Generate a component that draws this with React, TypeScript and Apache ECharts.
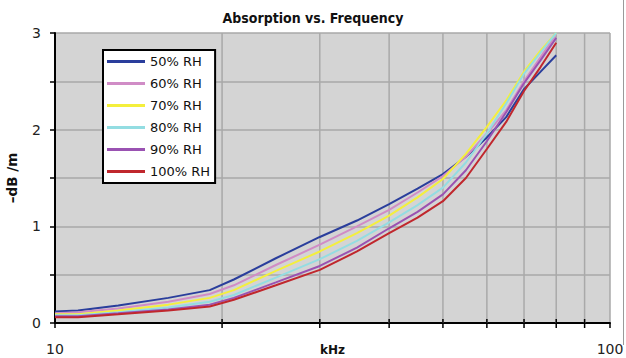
import React, { useEffect, useRef } from "react";
import * as echarts from "echarts";

const frequencies = [10, 11, 13, 16, 19, 21, 25, 30, 35, 40, 45, 50, 55, 60, 65, 70, 75, 80];
const seriesNames = ["50% RH", "60% RH", "70% RH", "80% RH", "90% RH", "100% RH"];
const rh50 = [0.12, 0.13, 0.18, 0.26, 0.34, 0.45, 0.67, 0.89, 1.06, 1.23, 1.39, 1.54, 1.72, 1.92, 2.13, 2.42, 2.6, 2.77];
const rh60 = [0.1, 0.11, 0.15, 0.22, 0.3, 0.39, 0.6, 0.81, 1.0, 1.17, 1.35, 1.52, 1.72, 1.96, 2.2, 2.5, 2.75, 2.99];
const rh70 = [0.09, 0.09, 0.13, 0.19, 0.26, 0.34, 0.54, 0.74, 0.93, 1.11, 1.3, 1.49, 1.75, 2.03, 2.3, 2.6, 2.82, 3.0];
const rh80 = [0.08, 0.08, 0.11, 0.16, 0.22, 0.29, 0.47, 0.66, 0.85, 1.04, 1.22, 1.4, 1.66, 1.96, 2.27, 2.58, 2.8, 3.0];
const rh90 = [0.07, 0.07, 0.1, 0.14, 0.19, 0.26, 0.42, 0.59, 0.78, 0.98, 1.15, 1.33, 1.58, 1.88, 2.18, 2.48, 2.72, 2.95];
const rh100 = [0.06, 0.06, 0.09, 0.13, 0.17, 0.24, 0.39, 0.55, 0.74, 0.93, 1.09, 1.26, 1.5, 1.8, 2.08, 2.4, 2.65, 2.9];
const allValues = [rh50, rh60, rh70, rh80, rh90, rh100];
const colors = ["#2a3e9c", "#d08cc6", "#f4ef3c", "#93dde2", "#9a52b2", "#c0272d"];
const minorGridFreqs = [20, 30, 40, 50, 60, 70, 80, 90];

export default function App() {
  const ref = useRef<HTMLDivElement>(null);
  useEffect(() => {
    if (!ref.current) return;
    const chart = echarts.init(ref.current, undefined, { renderer: "svg" });
    const font = "DejaVu Sans";
    const lineSeries = seriesNames.map((name, i) => ({
      name,
      type: "line",
      data: frequencies.map((f, j) => [f, allValues[i][j]]),
      symbol: "none",
      lineStyle: { color: colors[i], width: 2 },
      itemStyle: { color: colors[i] },
      z: 3,
    }));
    chart.setOption({
      animation: false,
      backgroundColor: "#ffffff",
      title: {
        text: "Absorption vs. Frequency",
        left: "center",
        top: 6,
        textStyle: { fontFamily: "DejaVu Sans Condensed", fontSize: 14, fontWeight: "bold", color: "#111" },
      },
      grid: {
        left: 55,
        right: 16,
        top: 33,
        bottom: 35,
        show: true,
        containLabel: false,
        outerBoundsMode: "none",
        backgroundColor: "#d4d4d4",
        borderWidth: 0,
      },
      legend: {
        orient: "vertical",
        left: 103,
        top: 50,
        icon: "rect",
        itemWidth: 38,
        itemHeight: 3,
        itemGap: 9,
        padding: [5, 5, 5, 4],
        backgroundColor: "#ffffff",
        borderColor: "#000000",
        borderWidth: 2,
        textStyle: { fontFamily: font, fontSize: 13, color: "#111", padding: [0, 0, 0, 0] },
        data: seriesNames,
      },
      xAxis: {
        type: "log",
        logBase: 10,
        min: 10,
        max: 100,
        name: "kHz",
        nameLocation: "middle",
        nameGap: 27,
        nameMoveOverlap: false,
        nameTextStyle: {
          fontFamily: font,
          fontSize: 12,
          fontWeight: "bold",
          color: "#111",
          verticalAlign: "middle",
        },
        axisLine: { lineStyle: { color: "#000", width: 2 } },
        axisTick: { show: true, length: 5, lineStyle: { color: "#000", width: 1.5 } },
        axisLabel: { fontFamily: font, fontSize: 14, color: "#222", margin: 19 },
        splitLine: { show: true, lineStyle: { color: "#a9a9a9", width: 1.5 } },
        minorTick: { show: false },
        minorSplitLine: { show: false },
      },
      yAxis: {
        type: "value",
        min: 0,
        max: 3,
        interval: 0.5,
        name: "\u2013dB /m",
        nameLocation: "middle",
        nameGap: 36,
        nameRotate: 90,
        nameMoveOverlap: false,
        nameTextStyle: { fontFamily: font, fontSize: 13.5, fontWeight: "bold", color: "#111" },
        axisLine: { show: true, lineStyle: { color: "#000", width: 2 } },
        axisTick: { show: true, length: 5, lineStyle: { color: "#000", width: 1.5 } },
        axisLabel: {
          fontFamily: font,
          fontSize: 14,
          color: "#222",
          margin: 14,
          formatter: (v: number) => (Number.isInteger(v) ? String(v) : ""),
        },
        splitLine: { show: true, lineStyle: { color: "#a9a9a9", width: 1.5 } },
      },
      series: [
        {
          type: "custom",
          silent: true,
          clip: false,
          z: 1,
          data: minorGridFreqs.map((f) => [f, 0]),
          renderItem: (params: any, api: any) => {
            const f = api.value(0);
            const bottom = api.coord([f, 0]);
            const top = api.coord([f, 3]);
            const x = bottom[0];
            return {
              type: "group",
              children: [
                {
                  type: "line",
                  shape: { x1: x, y1: top[1], x2: x, y2: bottom[1] },
                  style: { stroke: "#a9a9a9", lineWidth: 1.5 },
                },
                {
                  type: "line",
                  z2: 10,
                  shape: { x1: x, y1: bottom[1] - 4, x2: x, y2: bottom[1] + 5 },
                  style: { stroke: "#000", lineWidth: 1.5 },
                },
              ],
            };
          },
        },
        ...lineSeries,
      ],
      graphic: [
        {
          type: "line",
          shape: { x1: 623.5, y1: 0, x2: 623.5, y2: 345 },
          style: { stroke: "#9a9a9a", lineWidth: 1 },
        },
      ],
    });
    return () => chart.dispose();
  }, []);
  return <div ref={ref} style={{ position: "fixed", left: 0, top: 0, width: 626, height: 358 }} />;
}
